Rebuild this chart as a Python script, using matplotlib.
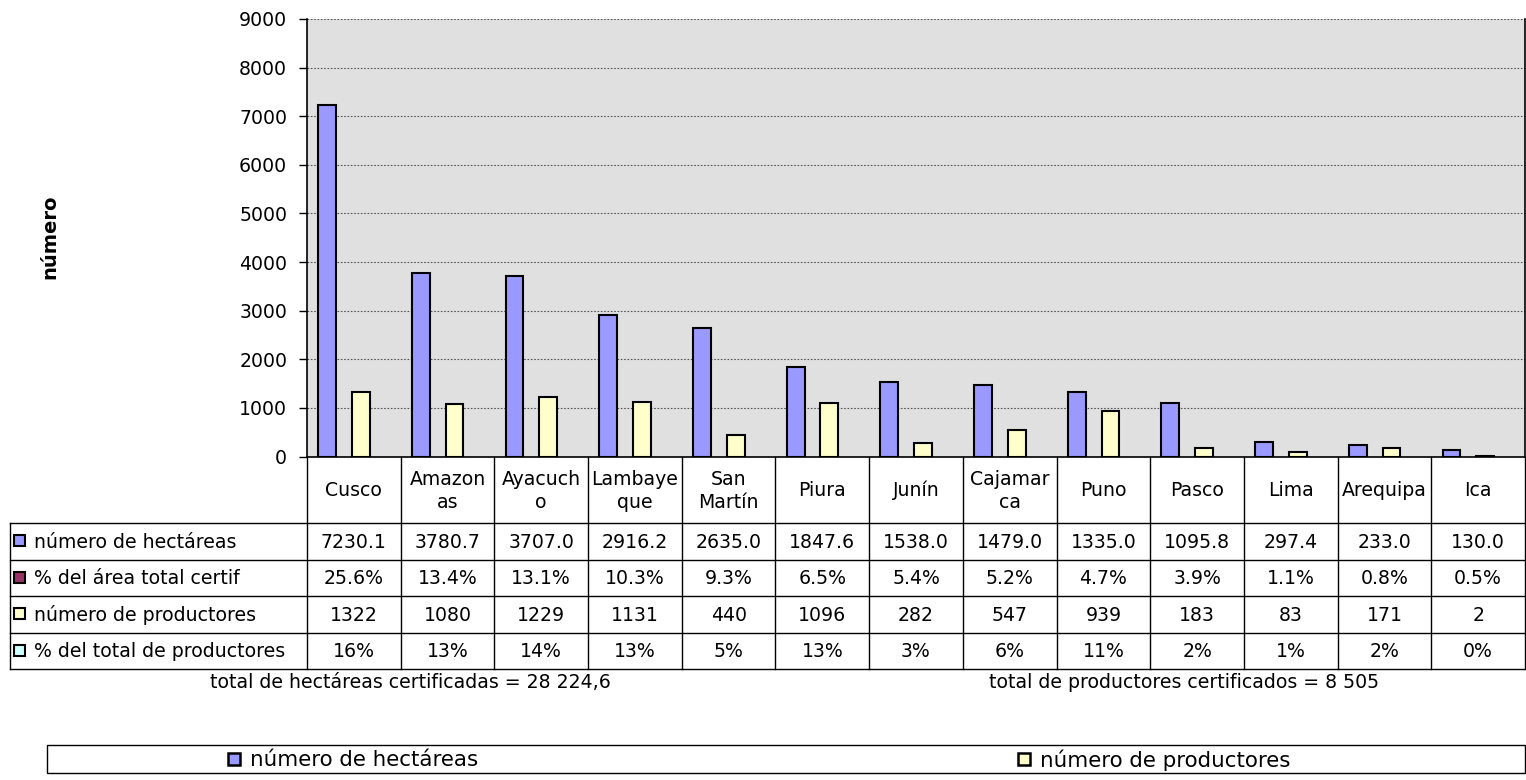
import matplotlib
matplotlib.use("Agg")
import matplotlib.pyplot as plt
from matplotlib.patches import Rectangle

plt.rcParams['font.family'] = ['DejaVu Sans']

categories = ["Cusco", "Amazon\nas", "Ayacuch\no", "Lambaye\nque", "San\nMartín", "Piura",
              "Junín", "Cajamar\nca", "Puno", "Pasco", "Lima", "Arequipa", "Ica"]
hectareas = [7230.1, 3780.7, 3707.0, 2916.2, 2635.0, 1847.6, 1538.0, 1479.0, 1335.0, 1095.8, 297.4, 233.0, 130.0]
pct_area = [25.6, 13.4, 13.1, 10.3, 9.3, 6.5, 5.4, 5.2, 4.7, 3.9, 1.1, 0.8, 0.5]
productores = [1322, 1080, 1229, 1131, 440, 1096, 282, 547, 939, 183, 83, 171, 2]
pct_prod = [16, 13, 14, 13, 5, 13, 3, 6, 11, 2, 1, 2, 0]
yticks = [0, 1000, 2000, 3000, 4000, 5000, 6000, 7000, 8000, 9000]

series_names = ["número de hectáreas", "% del área total certif",
                "número de productores", "% del total de productores"]
series_colors = ["#9999FF", "#993366", "#FFFFCC", "#CCFFFF"]
note_left = "total de hectáreas certificadas = 28 224,6"
note_right = "total de productores certificados = 8 505"

W, H = 1526, 780
FS = 13.6
fig = plt.figure(figsize=(W / 100, H / 100), dpi=100)
fig.patch.set_facecolor("white")

L, R, T, B = 307, 1525, 19, 456.5
ax = fig.add_axes([L / W, 1 - B / H, (R - L) / W, (B - T) / H])
ax.set_facecolor("#E0E0E0")
n = len(categories)
xs = list(range(n))
bw = 0.19
ax.bar([x - 0.285 for x in xs], hectareas, width=bw, color=series_colors[0],
       edgecolor="black", linewidth=1.5, zorder=3)
ax.bar([x + 0.075 for x in xs], productores, width=bw, color=series_colors[2],
       edgecolor="black", linewidth=1.5, zorder=3)
ax.set_xlim(-0.5, n - 0.5)
ax.set_ylim(0, 9000)
ax.set_yticks(yticks)
ax.set_yticklabels([str(v) for v in yticks], fontsize=FS)
ax.set_xticks([])
ax.yaxis.grid(True, linestyle=(0, (1.5, 1.5)), color="#555555", linewidth=0.8, zorder=1)
ax.tick_params(axis="y", direction="out", length=5.8, width=1, pad=8.5)
for s in ["left", "right", "bottom"]:
    ax.spines[s].set_linewidth(1.2)
    ax.spines[s].set_color("black")
ax.spines["top"].set_visible(False)

fig.text(50 / W, 1 - 237 / H, "número", rotation=90, ha="center", va="center",
         fontsize=14, fontweight="bold")

# overlay for table, notes and legend (pixel coordinates)
ov = fig.add_axes([0, 0, 1, 1])
ov.set_xlim(0, W)
ov.set_ylim(H, 0)
ov.axis("off")
ov.patch.set_alpha(0)

cw = (R - L) / n
hdr_top, hdr_bot = B, 523
row_h = 36.5
tab_left = 10
lw = 1.0
for i, c in enumerate(categories):
    x0 = L + i * cw
    ov.text(x0 + cw / 2, (hdr_top + hdr_bot) / 2 + 1, c, ha="center", va="center",
            fontsize=FS, linespacing=1.25)
rows = [[f"{v:.1f}" for v in hectareas],
        [f"{v:.1f}%" for v in pct_area],
        [f"{v}" for v in productores],
        [f"{v}%" for v in pct_prod]]
tab_bot = hdr_bot + 4 * row_h
for r, vals in enumerate(rows):
    y0 = hdr_bot + r * row_h
    yc = y0 + row_h / 2
    ov.add_patch(Rectangle((tab_left + 4, yc - 6), 11, 11, facecolor=series_colors[r],
                           edgecolor="black", linewidth=1.5))
    ov.text(tab_left + 24, yc + 1, series_names[r], ha="left", va="center", fontsize=FS)
    for i, v in enumerate(vals):
        ov.text(L + i * cw + cw / 2, yc + 1, v, ha="center", va="center", fontsize=FS)
for r in range(5):
    y = hdr_bot + r * row_h
    ov.plot([tab_left, R], [y, y], color="black", lw=lw)
ov.plot([tab_left, tab_left], [hdr_bot, tab_bot], color="black", lw=lw)
for i in range(n + 1):
    x = L + i * cw
    ov.plot([x, x], [hdr_top, tab_bot], color="black", lw=lw)

ov.text(410, 682, note_left, ha="center", va="center", fontsize=FS)
ov.text(1184, 682, note_right, ha="center", va="center", fontsize=FS)

# legend
ov.add_patch(Rectangle((47, 745), R - 47, 28, facecolor="white", edgecolor="black", linewidth=1.0))
for sx, name, col in [(228, series_names[0], series_colors[0]), (1018, series_names[2], series_colors[2])]:
    ov.add_patch(Rectangle((sx, 753), 12, 12, facecolor=col, edgecolor="black", linewidth=1.8))
    ov.text(sx + 22, 760, name, ha="left", va="center", fontsize=15.4)

fig.savefig("out.png", dpi=100)
